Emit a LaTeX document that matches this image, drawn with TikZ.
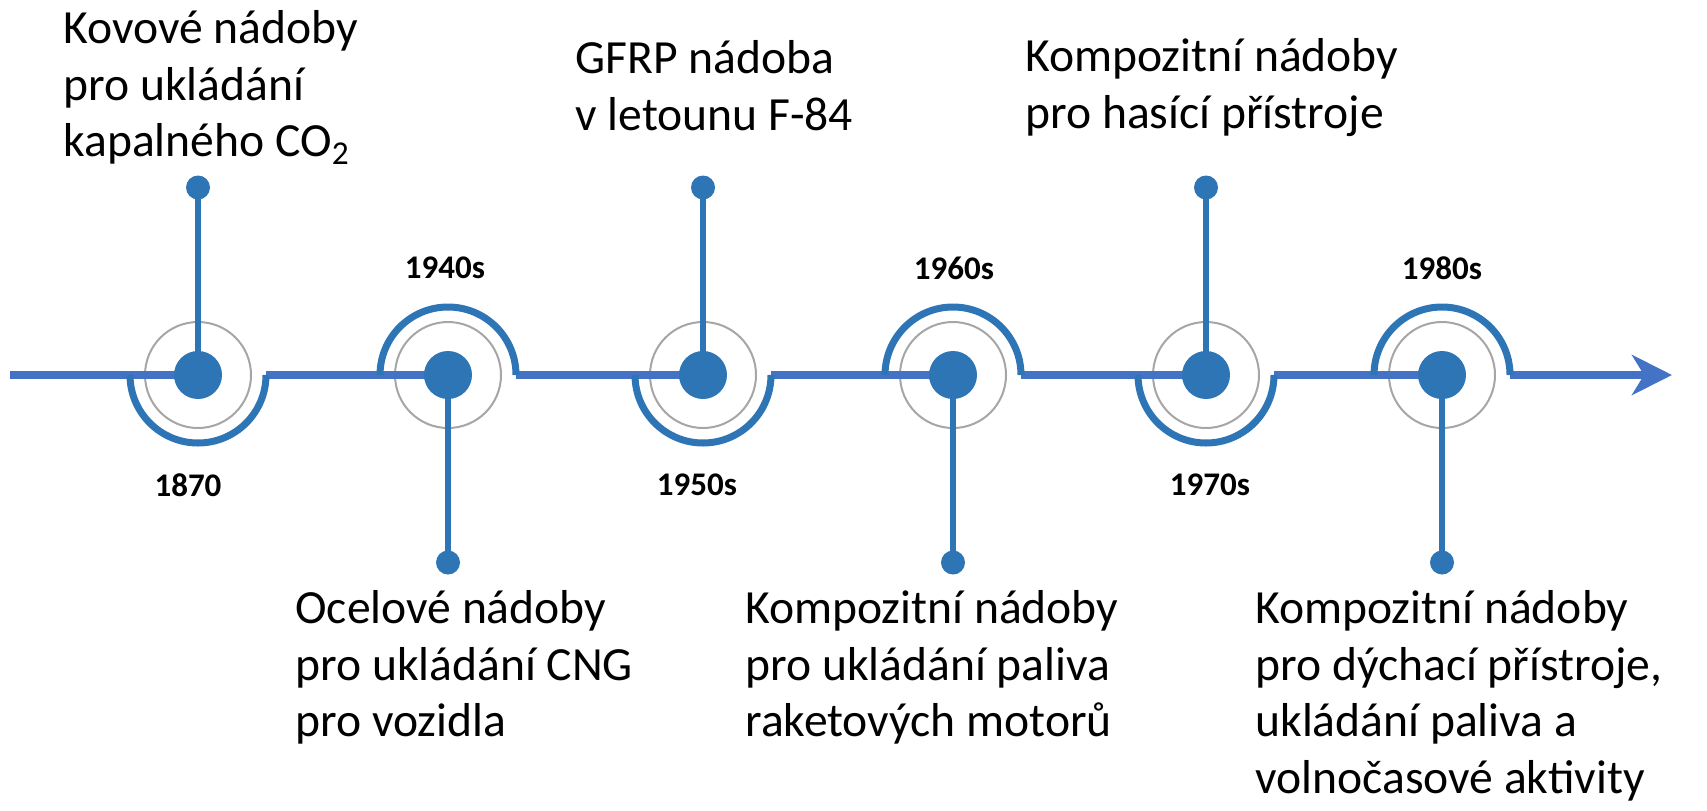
\documentclass[tikz,border=0pt]{standalone}
\usepackage{fontspec}
\setsansfont{Carlito}
\usetikzlibrary{arrows.meta,backgrounds}
\definecolor{lineblue}{HTML}{4472C4}
\definecolor{dotblue}{HTML}{2E75B6}
\definecolor{ringgray}{HTML}{A6A6A6}
\tikzset{
  bigdot/.style={circle,fill=dotblue,inner sep=0,minimum size=24pt},
  enddot/.style={circle,fill=dotblue,inner sep=0,minimum size=12pt},
  ring/.style={circle,draw=ringgray,line width=1pt,inner sep=0,minimum size=53pt},
  axisline/.style={lineblue,line width=3.6pt},
  halfring/.style={dotblue,line width=3.5pt},
  stem/.style={dotblue,line width=3.3pt},
  year/.style={font=\sffamily\bfseries\fontsize{16.5}{20}\selectfont,inner sep=0},
  note/.style={font=\sffamily\fontsize{23.8}{28.3}\selectfont,align=left,anchor=north west,inner sep=0}
}
\begin{document}
\begin{tikzpicture}[x=.5pt,y=.5pt]
\useasboundingbox (0,-435) rectangle (1707,375);
\coordinate (start) at (10,0);\coordinate (end) at (1672,0);
% milestones: index/x/side of stem (1 up, -1 down)
\foreach \i/\x/\s in {1/198/1,2/448/-1,3/703/1,4/953/-1,5/1206/1,6/1442/-1}{
  \node[bigdot] (e\i) at (\x,0) {};\node[enddot] (t\i) at (\x,187.5*\s) {};
  \coordinate (a\i) at (\x-68,0);\coordinate (b\i) at (\x+68,0);
}
\begin{scope}[on background layer]
\foreach \i in {1,...,6}{\node[ring] (r\i) at (e\i) {};}
\draw[axisline] (start)--(e1.center);\draw[axisline] (b1)--(e2.center);\draw[axisline] (b2)--(e3.center);
\draw[axisline] (b3)--(e4.center);\draw[axisline] (b4)--(e5.center);\draw[axisline] (b5)--(e6.center);
\draw[axisline,-{Stealth[length=20pt,width=20pt,inset=6pt]}] (b6)--(end);
\foreach \i/\s in {1/1,2/-1,3/1,4/-1,5/1,6/-1}{
  \draw[halfring] (a\i) arc[start angle=180,end angle=180+180*\s,radius=34pt];
  \draw[stem] (e\i.center)--(t\i.center);
}
\end{scope}
\node[year] (y1) at (188,-110){1870};\node[year] (y2) at (445,107){1940s};\node[year] (y3) at (697,-110){1950s};
\node[year] (y4) at (954,107){1960s};\node[year] (y5) at (1210,-110){1970s};\node[year] (y6) at (1442,107){1980s};
\node[note] (n1) at (63,365){Kovové nádoby\\pro ukládání\\kapalného CO\textsubscript{2}};
\node[note] (n2) at (295,-215){Ocelové nádoby\\pro ukládání CNG\\pro vozidla};
\node[note] (n3) at (575,335){GFRP nádoba\\v letounu F-84};
\node[note] (n4) at (745,-215){Kompozitní nádoby\\pro ukládání paliva\\raketových motorů};
\node[note] (n5) at (1025,337){Kompozitní nádoby\\pro hasící přístroje};
\node[note] (n6) at (1255,-215){Kompozitní nádoby\\pro dýchací přístroje,\\ukládání paliva a\\volnočasové aktivity};
\end{tikzpicture}
\end{document}
